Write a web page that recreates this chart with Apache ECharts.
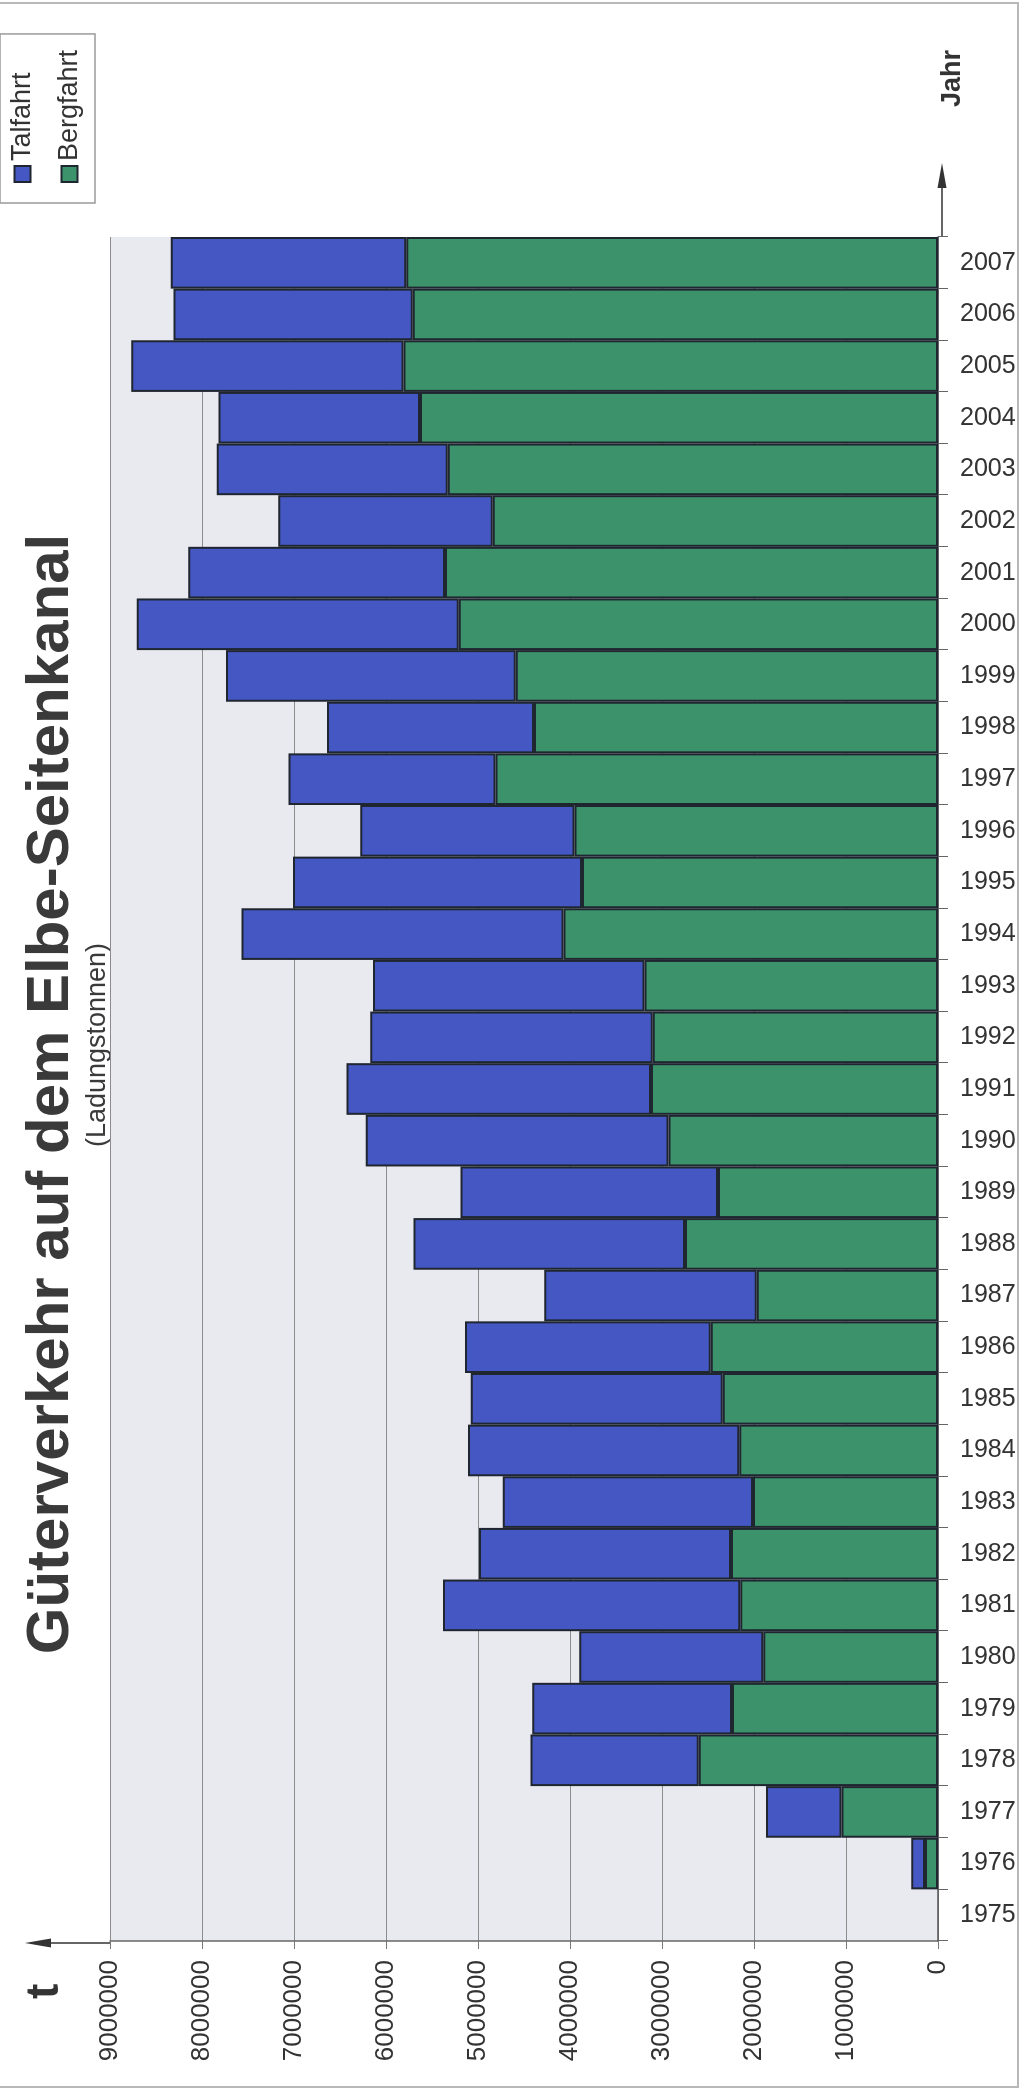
<!DOCTYPE html>
<html>
<head>
<meta charset="utf-8">
<script src="https://cdn.jsdelivr.net/npm/echarts@6/dist/echarts.min.js"></script>
<style>
html,body{margin:0;padding:0;background:#fff;width:1026px;height:2091px;overflow:hidden;}
#chart{position:absolute;left:0;top:2091px;width:2091px;height:1026px;transform-origin:0 0;transform:rotate(-90deg);}
</style>
</head>
<body>
<div id="chart"></div>
<script>
// Years (category axis)
const years = ['1975','1976','1977','1978','1979','1980','1981','1982','1983','1984','1985','1986','1987','1988','1989','1990','1991','1992','1993','1994','1995','1996','1997','1998','1999','2000','2001','2002','2003','2004','2005','2006','2007'];
// Bergfahrt (upstream) tonnes
const bergfahrt = [null,140000,1050000,2600000,2240000,1900000,2150000,2250000,2010000,2160000,2340000,2470000,1970000,2750000,2390000,2930000,3120000,3100000,3190000,4070000,3870000,3950000,4810000,4390000,4590000,5210000,5360000,4840000,5330000,5630000,5810000,5710000,5780000];
// Talfahrt (downstream) tonnes
const talfahrt = [null,150000,820000,1830000,2170000,2000000,3230000,2740000,2720000,2950000,2740000,2670000,2310000,2950000,2800000,3290000,3310000,3070000,2950000,3500000,3140000,2330000,2250000,2250000,3150000,3500000,2790000,2330000,2510000,2190000,2960000,2600000,2560000];
// value axis
const valueMin = 0, valueMax = 9000000, valueStep = 1000000;

const FONT = "'Liberation Sans', Arial, sans-serif";
const chart = echarts.init(document.getElementById('chart'), null, {renderer:'canvas', width:2091, height:1026});
chart.setOption({
  animation:false,
  backgroundColor:'#ffffff',
  textStyle:{fontFamily:FONT},
  grid:{left:150, right:237, top:110, bottom:88, show:true, backgroundColor:'#e9e9f0', borderWidth:0},
  legend:{
    data:['Talfahrt','Bergfahrt'], orient:'vertical', left:1888, top:0,
    itemWidth:16, itemHeight:16, itemGap:20, padding:[9,16,12,20],
    borderColor:'#9a9a9a', borderWidth:1.5, backgroundColor:'#ffffff',
    textStyle:{fontSize:27, color:'#333', fontFamily:FONT}, icon:'rect'
  },
  xAxis:{
    type:'category', data:years, boundaryGap:true,
    axisLine:{show:true, lineStyle:{color:'#555', width:1.5}},
    axisTick:{show:true, length:10, lineStyle:{color:'#666'}},
    axisLabel:{rotate:-90, margin:22, fontSize:25, color:'#333', fontFamily:FONT},
    splitLine:{show:false}
  },
  yAxis:{
    type:'value', min:valueMin, max:valueMax, interval:valueStep,
    axisLine:{show:true, lineStyle:{color:'#666', width:1.5}},
    axisTick:{show:true, length:8, lineStyle:{color:'#777'}},
    axisLabel:{fontSize:26, color:'#333', margin:19, fontFamily:FONT, formatter:function(v){return String(v);}},
    splitLine:{show:true, lineStyle:{color:'#8c8c8c', width:1}}
  },
  series:[
    {name:'Bergfahrt', type:'bar', stack:'t', data:bergfahrt, barCategoryGap:'0%',
     itemStyle:{color:'#3b926b', borderColor:'#1f2630', borderWidth:2}},
    {name:'Talfahrt', type:'bar', stack:'t', data:talfahrt, barCategoryGap:'0%',
     itemStyle:{color:'#4457c3', borderColor:'#1f2630', borderWidth:2}}
  ],
  graphic:[
    {type:'rect', shape:{x:4, y:-2, width:2084, height:1020}, style:{fill:null, stroke:'#b8b8b8', lineWidth:2}, silent:true},
    {type:'text', style:{text:'Güterverkehr auf dem Elbe-Seitenkanal', x:997, y:21, textAlign:'center', textVerticalAlign:'top', font:'bold 60px '+FONT, fill:'#3a3a3a'}},
    {type:'text', style:{text:'(Ladungstonnen)', x:1046, y:84, textAlign:'center', textVerticalAlign:'top', font:'27px '+FONT, fill:'#3a3a3a'}},
    {type:'text', style:{text:'Jahr', x:1984, y:939, textAlign:'left', textVerticalAlign:'top', font:'bold 27px '+FONT, fill:'#333'}},
    {type:'text', style:{text:'t', x:92, y:22, textAlign:'left', textVerticalAlign:'top', font:'bold 46px '+FONT, fill:'#333'}},
    // category axis arrow
    {type:'line', shape:{x1:1854, y1:942, x2:1906, y2:942}, style:{stroke:'#333', lineWidth:1.5}},
    {type:'polygon', shape:{points:[[1928,942],[1903,937.5],[1903,946.5]]}, style:{fill:'#333'}},
    // value axis arrow
    {type:'line', shape:{x1:148, y1:110, x2:148, y2:48}, style:{stroke:'#333', lineWidth:1.5}},
    {type:'polygon', shape:{points:[[148,25],[143.5,51],[152.5,51]]}, style:{fill:'#333'}}
  ]
});
</script>
</body>
</html>
